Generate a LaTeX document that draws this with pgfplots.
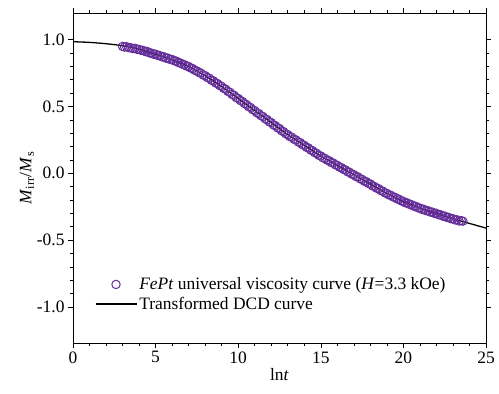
\documentclass[border=0pt]{standalone}
\usepackage{pgfplots}
\pgfplotsset{compat=1.18}
\usepackage{fontspec}
\setmainfont{Liberation Serif}
\definecolor{vpurple}{RGB}{102,46,155}
\pgfplotstableread{
x y
3.0 0.950
3.25 0.948
3.5 0.940
3.75 0.936
4.0 0.928
4.25 0.920
4.5 0.912
4.75 0.900
5.0 0.892
5.25 0.882
5.5 0.873
5.75 0.862
6.0 0.852
6.25 0.840
6.5 0.826
6.75 0.813
7.0 0.800
7.25 0.784
7.5 0.766
7.75 0.750
8.0 0.731
8.25 0.712
8.5 0.692
8.75 0.672
9.0 0.651
9.25 0.630
9.5 0.607
9.75 0.584
10.0 0.561
10.25 0.539
10.5 0.516
10.75 0.493
11.0 0.470
11.25 0.447
11.5 0.425
11.75 0.402
12.0 0.380
12.25 0.357
12.5 0.335
12.75 0.312
13.0 0.290
13.25 0.270
13.5 0.250
13.75 0.230
14.0 0.210
14.25 0.190
14.5 0.170
14.75 0.150
15.0 0.130
15.25 0.112
15.5 0.095
15.75 0.077
16.0 0.060
16.25 0.042
16.5 0.025
16.75 0.008
17.0 -0.010
17.25 -0.027
17.5 -0.045
17.75 -0.062
18.0 -0.080
18.25 -0.098
18.5 -0.115
18.75 -0.133
19.0 -0.150
19.25 -0.165
19.5 -0.180
19.75 -0.195
20.0 -0.210
20.25 -0.222
20.5 -0.235
20.75 -0.247
21.0 -0.260
21.25 -0.270
21.5 -0.280
21.75 -0.290
22.0 -0.300
22.25 -0.310
22.5 -0.320
22.75 -0.330
23.0 -0.340
23.25 -0.348
23.5 -0.355
23.6 -0.358
}\viscdata
\pgfplotstableread{
x y
3.125 0.945
3.375 0.940
3.625 0.934
3.875 0.928
4.125 0.920
4.375 0.911
4.625 0.901
4.875 0.891
5.125 0.882
5.375 0.872
5.625 0.862
5.875 0.852
6.125 0.842
6.375 0.829
6.625 0.816
6.875 0.802
7.125 0.788
7.375 0.771
7.625 0.754
7.875 0.736
8.125 0.717
8.375 0.697
8.625 0.677
8.875 0.657
9.125 0.635
9.375 0.613
9.625 0.590
9.875 0.567
10.125 0.545
10.375 0.522
10.625 0.499
10.875 0.476
11.125 0.453
11.375 0.431
11.625 0.408
11.875 0.386
12.125 0.363
12.375 0.341
12.625 0.318
12.875 0.296
13.125 0.275
13.375 0.255
13.625 0.235
13.875 0.215
14.125 0.195
14.375 0.175
14.625 0.155
14.875 0.135
15.125 0.116
15.375 0.099
15.625 0.081
15.875 0.064
16.125 0.046
16.375 0.029
16.625 0.011
16.875 -0.006
17.125 -0.024
17.375 -0.041
17.625 -0.059
17.875 -0.076
18.125 -0.094
18.375 -0.111
18.625 -0.129
18.875 -0.146
19.125 -0.162
19.375 -0.177
19.625 -0.192
19.875 -0.207
20.125 -0.221
20.375 -0.233
20.625 -0.246
20.875 -0.258
21.125 -0.270
21.375 -0.280
21.625 -0.290
21.875 -0.300
22.125 -0.310
22.375 -0.320
22.625 -0.330
22.875 -0.340
23.125 -0.349
23.375 -0.357
}\viscdatab
\pgfplotstableread{
x y
0 0.985
1 0.980
2 0.970
3 0.955
4 0.930
5 0.890
6 0.850
7 0.800
8 0.730
9 0.650
10 0.560
11 0.470
12 0.380
13 0.290
14 0.210
15 0.130
16 0.060
17 -0.010
18 -0.080
19 -0.150
20 -0.210
21 -0.260
22 -0.300
23 -0.340
24 -0.375
25 -0.410
}\dcddata
\begin{document}
\begin{tikzpicture}
\path[use as bounding box] (-73bp,-50.3bp) rectangle (426bp,343bp);
\begin{axis}[
  at={(0,0)}, anchor=south west,
  scale only axis, width=413bp, height=330bp,
  xmin=0, xmax=25, ymin=-1.27, ymax=1.2,
  xtick={0,5,10,15,20,25},
  minor x tick num=4,
  ytick={-1,-0.5,0,0.5,1},
  yticklabels={-1.0,-0.5,0.0,0.5,1.0},
  minor y tick num=4,
  tick align=outside,
  tick pos=both,
  major tick length=5bp, minor tick length=3bp,
  every tick/.style={black, line width=0.6pt},
  axis line style={line width=0.8pt},
  /pgf/number format/assume math mode=true,
  tick label style={font=\fontsize{17.5}{20}\selectfont},
  label style={font=\fontsize{17.5}{20}\selectfont},
  xlabel={ln\textit{t}},
  ylabel={\textit{M}$_{\mathrm{irr}}$/\textit{M}$_{\mathrm{s}}$},
  xlabel style={yshift=2bp},
  ylabel style={yshift=-4bp},
  legend style={draw=none, fill=none, at={(0.045,0.1475)}, anchor=west,
    font=\fontsize{17.5}{20}\selectfont, row sep=2bp},
  legend cell align=left,
]
\addplot[only marks, mark=o, mark size=4.2bp, color=vpurple, mark options={line width=1pt},
  legend image code/.code={\draw[vpurple, line width=1pt] (20.5bp,0bp) circle[radius=4.2bp];}] table {\viscdata};
\addlegendentry{\textit{FePt} universal viscosity curve (\textit{H}=3.3 kOe)}
\addplot[forget plot, only marks, mark=o, mark size=4.2bp, color=vpurple, mark options={line width=1pt}] table {\viscdatab};
\addplot[black, line width=1.3pt, smooth,
  legend image code/.code={\draw[black, line width=1.5pt] (0bp,0bp) -- (41bp,0bp);}] table {\dcddata};
\addlegendentry{Transformed DCD curve}
\end{axis}
\end{tikzpicture}
\end{document}
